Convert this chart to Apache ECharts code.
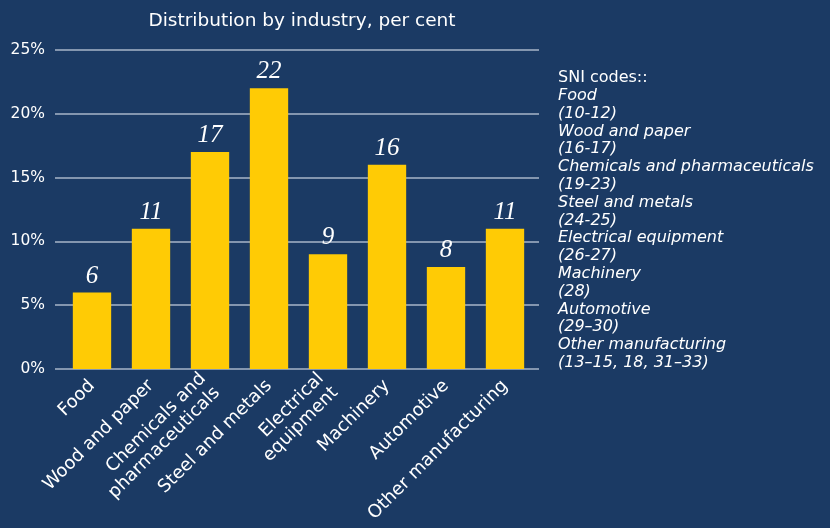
<!DOCTYPE html>
<html><head><meta charset="utf-8">
<script src="https://cdn.jsdelivr.net/npm/echarts@6/dist/echarts.min.js"></script>
<style>html,body{margin:0;padding:0;background:#1b3a64;}#c{width:830px;height:528px;}</style>
</head><body><div id="c"></div>
<script>
const categories = ['Food','Wood and paper','Chemicals and\npharmaceuticals','Steel and metals','Electrical\nequipment','Machinery','Automotive','Other manufacturing'];
const values = [6, 11, 17, 22, 9, 16, 8, 11];
const legendNames = ['Food','Wood and paper','Chemicals and pharmaceuticals','Steel and metals','Electrical equipment','Machinery','Automotive','Other manufacturing'];
const sniCodes = ['(10-12)','(16-17)','(19-23)','(24-25)','(26-27)','(28)','(29–30)','(13–15, 18, 31–33)'];
const yTicks = [0, 5, 10, 15, 20, 25];

const font = 'DejaVu Sans';
let legendText = '{n|SNI codes::}';
legendNames.forEach((n, i) => { legendText += '\n{i|' + n + '}\n{i|' + sniCodes[i] + '}'; });

const yMin = yTicks[0], yMax = yTicks[yTicks.length - 1];
const chart = echarts.init(document.getElementById('c'));
chart.setOption({
  backgroundColor: '#1b3a64',
  animation: false,
  title: {
    text: 'Distribution by industry, per cent',
    left: 297, top: 7, textAlign: 'center',
    textStyle: { color: '#ffffff', fontFamily: font, fontSize: 18.5, fontWeight: 'normal' }
  },
  grid: [
    { left: 55, right: 291, top: 50, bottom: 159 },
    { left: 62.5, right: 295.5, top: 50, bottom: 159 }
  ],
  xAxis: [
    { type: 'category', gridIndex: 0, data: categories, show: false },
    {
      type: 'category', gridIndex: 1, data: categories,
      axisLine: { show: false },
      axisTick: { show: false },
      axisLabel: { rotate: 45, color: '#ffffff', fontFamily: font, fontSize: 18, interval: 0, margin: 14, lineHeight: 20, align: 'right' }
    }
  ],
  yAxis: [
    {
      type: 'value', gridIndex: 0, min: yMin, max: yMax, interval: 5,
      axisLine: { show: false }, axisTick: { show: false },
      splitLine: { lineStyle: { color: '#a9b6c8', width: 1.5 } },
      axisLabel: { color: '#ffffff', fontFamily: font, fontSize: 15.5, margin: 10, formatter: v => v + '%' }
    },
    { type: 'value', gridIndex: 1, min: yMin, max: yMax, interval: 5, show: false, splitLine: { show: false } }
  ],
  series: [{
    type: 'bar', xAxisIndex: 1, yAxisIndex: 1, data: values, barWidth: '65%',
    itemStyle: { color: '#ffcb05' },
    label: { show: true, position: 'top', color: '#ffffff', fontFamily: 'Liberation Serif', fontStyle: 'italic', fontSize: 25, distance: 4 }
  }],
  graphic: [{
    type: 'text', left: 558, top: 70,
    style: {
      text: legendText,
      rich: {
        n: { fill: '#ffffff', fontFamily: font, fontSize: 16, lineHeight: 17.8 },
        i: { fill: '#ffffff', fontFamily: font, fontStyle: 'italic', fontSize: 16, lineHeight: 17.8 }
      }
    }
  }]
});
</script></body></html>
